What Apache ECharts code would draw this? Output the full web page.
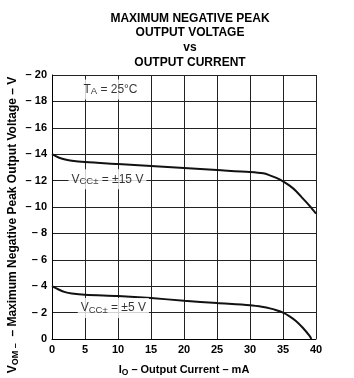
<!DOCTYPE html>
<html>
<head>
<meta charset="utf-8">
<script src="https://cdn.jsdelivr.net/npm/echarts@6/dist/echarts.min.js"></script>
<style>
html,body{margin:0;padding:0;background:#fff;}
#c{width:354px;height:378px;}
</style>
</head>
<body>
<div id="c"></div>
<script>
var titleLines = ['MAXIMUM NEGATIVE PEAK', 'OUTPUT VOLTAGE', 'vs', 'OUTPUT CURRENT'];
var xTicks = [0, 5, 10, 15, 20, 25, 30, 35, 40];
var yTicks = [0, 2, 4, 6, 8, 10, 12, 14, 16, 18, 20];

var current15 = [0, 1, 2, 3, 5, 10, 15, 20, 25, 30, 32, 33, 34, 35, 36, 37, 38, 39, 40];
var vom15 = [14.0, 13.75, 13.6, 13.5, 13.4, 13.25, 13.1, 12.95, 12.8, 12.65, 12.55, 12.4, 12.2, 11.95, 11.62, 11.2, 10.65, 10.1, 9.5];

var current5 = [0, 1, 2, 3, 5, 10, 15, 20, 25, 30, 32, 33, 34, 35, 36, 37, 38, 39, 39.3];
var vom5 = [4.0, 3.75, 3.55, 3.45, 3.35, 3.25, 3.1, 2.9, 2.72, 2.55, 2.42, 2.32, 2.18, 2.0, 1.72, 1.35, 0.85, 0.25, 0];

var annotations = [
  {name: 'ta', pos: [4.3, 18.9]},
  {name: 'v15', pos: [2.5, 12.1]},
  {name: 'v5', pos: [3.9, 2.35]}
];

function pairs(xs, ys) { return xs.map(function (x, i) { return [x, ys[i]]; }); }

var FONT = '"Liberation Sans", Arial, sans-serif';
var chart = echarts.init(document.getElementById('c'), null, {renderer: 'canvas'});

var annoText = {
  ta: '{m|T}{s|A}{m| = 25°C}',
  v15: '{m|V}{s|CC±}{m| = ±15 V}',
  v5: '{m|V}{s|CC±}{m| = ±5 V}'
};

chart.setOption({
  animation: false,
  backgroundColor: '#fff',
  title: {
    text: titleLines.join('\n'),
    left: 185,
    top: 6,
    textAlign: 'center',
    textStyle: {fontFamily: FONT, fontWeight: 'bold', fontSize: 12, lineHeight: 14.7, color: '#000'}
  },
  grid: {left: 52, right: 38, top: 75, bottom: 39, containLabel: false, outerBoundsMode: 'none'},
  xAxis: {
    type: 'value', min: 0, max: 40, interval: 5,
    name: '{m|I}{s|O}{m| – Output Current – mA}',
    nameLocation: 'middle', nameGap: 24,
    nameTextStyle: {
      rich: {
        m: {fontFamily: FONT, fontWeight: 'bold', fontSize: 11, color: '#000', lineHeight: 14},
        s: {fontFamily: FONT, fontWeight: 'bold', fontSize: 8.5, color: '#000', lineHeight: 14, verticalAlign: 'bottom', padding: [5, 0, 0, 0]}
      }
    },
    axisLine: {show: true, lineStyle: {color: '#000', width: 1}},
    axisTick: {show: false},
    axisLabel: {fontFamily: FONT, fontWeight: 'bold', fontSize: 11, color: '#000', margin: 5},
    splitLine: {show: true, lineStyle: {color: '#222', width: 1}}
  },
  yAxis: {
    type: 'value', min: 0, max: 20, interval: 2,
    name: '{m|V}{s|OM –}{m|  – Maximum Negative Peak Output Voltage – V}',
    nameLocation: 'middle', nameGap: 32, nameMoveOverlap: false,
    nameTextStyle: {
      padding: [0, 36, 0, 0],
      rich: {
        m: {fontFamily: FONT, fontWeight: 'bold', fontSize: 12, color: '#000', lineHeight: 14},
        s: {fontFamily: FONT, fontWeight: 'bold', fontSize: 9, color: '#000', lineHeight: 14, verticalAlign: 'bottom', padding: [5, 0, 0, 0]}
      }
    },
    axisLine: {show: true, lineStyle: {color: '#000', width: 1}},
    axisTick: {show: false},
    axisLabel: {
      fontFamily: FONT, fontWeight: 'bold', fontSize: 11, color: '#000', margin: 5,
      formatter: function (v) { return v === 0 ? '0' : '– ' + v; }
    },
    splitLine: {show: true, lineStyle: {color: '#222', width: 1}}
  },
  series: [
    {
      type: 'line', data: pairs(current15, vom15), smooth: 0.3, showSymbol: false,
      lineStyle: {color: '#111', width: 2}, z: 3
    },
    {
      type: 'line', data: pairs(current5, vom5), smooth: 0.3, showSymbol: false,
      lineStyle: {color: '#111', width: 2}, z: 3
    },
    {
      type: 'scatter', symbolSize: 0, z: 4,
      data: annotations.map(function (a) { return {name: a.name, value: a.pos}; }),
      label: {
        show: true, position: 'right', distance: 0,
        backgroundColor: '#fff', padding: [3, 3, 3, 3],
        formatter: function (p) { return annoText[p.name]; },
        rich: {
          m: {fontFamily: FONT, fontSize: 12, color: '#000', lineHeight: 14},
          s: {fontFamily: FONT, fontSize: 9.5, color: '#000', lineHeight: 14, verticalAlign: 'bottom', padding: [5, 0, 0, 0]}
        }
      }
    }
  ]
});
</script>
</body>
</html>
